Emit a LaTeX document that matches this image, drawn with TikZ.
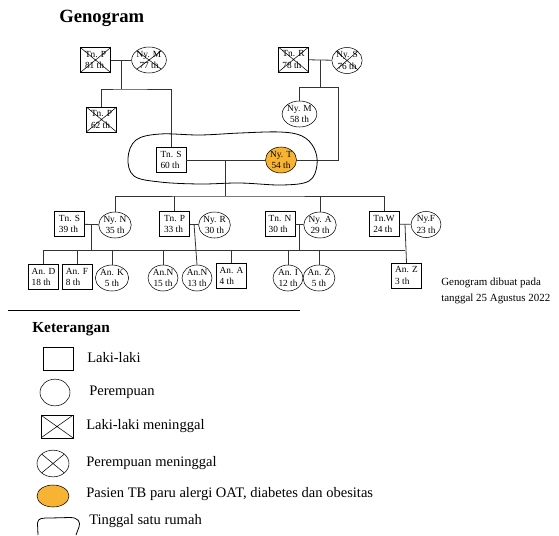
\documentclass[tikz,border=0pt]{standalone}
\usepackage{fontspec}
\setmainfont{Liberation Serif}
\usetikzlibrary{shapes.geometric,calc}
\definecolor{patientorange}{RGB}{247,180,52}

\tikzset{
  male/.style={draw, rectangle, minimum width=22.5pt, minimum height=18.5pt, inner sep=1pt, align=left, font=\fontsize{7}{8.8}\selectfont},
  female/.style={draw, ellipse, minimum width=22.5pt, minimum height=19.5pt, inner sep=0pt, align=center, font=\fontsize{7}{8.8}\selectfont},
  dead/.style={path picture={\draw[line width=0.4pt] (path picture bounding box.north west) -- (path picture bounding box.south east) (path picture bounding box.north east) -- (path picture bounding box.south west);}},
  patient/.style={fill=patientorange},
  link/.style={draw=black!80, line width=0.6pt},
  legendtext/.style={anchor=west, inner sep=0pt, font=\fontsize{10.9}{12}\selectfont}
}

\begin{document}
\begin{tikzpicture}[x=0.75pt,y=0.75pt,yscale=-1,xscale=1]
\useasboundingbox (0,0) rectangle (559,535);

% Title
\node (title) [anchor=west, inner sep=0pt, font=\bfseries\fontsize{14}{16}\selectfont] at (59,18) {Genogram};

%Shape: first generation
\node (tnP1) [male, dead] at (95.5,60) {Tn. P\\81 th};
\node (nyM1) [female, dead] at (149,60) {Ny. M\\77 th};
\node (tnR) [male, dead] at (293.5,59.5) {Tn. R\\78 th};
\node (nyS) [female, dead] at (347,60.5) {Ny. S\\76 th};

%Shape: second generation
\node (tnP2) [male, dead] at (101.5,119.5) {Tn. P\\62 th};
\node (tnS60) [male] at (171,160) {Tn. S\\60 th};
\node (nyT) [female, patient] at (281,160) {Ny. T\\54 th};
\node (nyM58) [female] at (299.5,114) {Ny. M\\58 th};

%Shape: third generation
\node (tnS39) [male] at (69.5,224) {Tn. S\\39 th};
\node (nyN) [female] at (115,225) {Ny. N\\35 th};
\node (tnP33) [male] at (174.5,224) {Tn. P\\33 th};
\node (nyR) [female] at (214.5,225) {Ny. R\\30 th};
\node (tnN) [male] at (280,224) {Tn. N\\30 th};
\node (nyA) [female] at (320,225) {Ny. A\\29 th};
\node (tnW) [male] at (384,224) {Tn.W\\24 th};
\node (nyF) [female] at (426,224.5) {Ny.F\\23 th};

%Shape: fourth generation
\node (anD) [male] at (43.5,277) {An. D\\18 th};
\node (anF) [male] at (77,277) {An. F\\8 th};
\node (anK) [female] at (112,278) {An. K\\5 th};
\node (anN15) [female] at (163,278) {An.N\\15 th};
\node (anN13) [female] at (197,278) {An.N\\13 th};
\node (anA) [male] at (231.5,276) {An. A\\4 th};
\node (anI) [female] at (288,278) {An. I\\12 th};
\node (anZ5) [female] at (319,278) {An. Z\\5 th};
\node (anZ3) [male] at (406.5,275.5) {An. Z\\3 th};

% Text Node
\node (note) [anchor=west, align=left, inner sep=0pt, font=\fontsize{8.2}{11.5}\selectfont] at (441,291) {Genogram dibuat pada\\tanggal 25 Agustus 2022};

%Straight Lines: couples
\draw [link] (tnP1) -- (nyM1);
\draw [link] (tnR) -- (nyS);
\draw [link] (tnS60) -- (nyT);
\draw [link] (tnS39) -- (nyN);
\draw [link] (tnP33) -- (nyR);
\draw [link] (tnN) -- (nyA);
\draw [link] (tnW) -- (nyF);

\coordinate (m1) at ($(tnP1.east)!.5!(nyM1.west)$);
\coordinate (m2) at ($(tnR.east)!.5!(nyS.west)$);
\coordinate (m3) at ($(tnS60.east)!.5!(nyT.west)$);
\coordinate (m4) at ($(tnS39.east)!.5!(nyN.west)$);
\coordinate (m5) at ($(tnP33.east)!.5!(nyR.west)$);
\coordinate (m6) at ($(tnN.east)!.5!(nyA.west)$);
\coordinate (m7) at ($(tnW.east)!.5!(nyF.west)$);

\coordinate (k1) at (124,89);
\coordinate (k2) at (320,87);
\coordinate (r2) at (338,87);
\coordinate (k3) at (227,196);
\coordinate (k4) at (0,250);

%Straight Lines: children of Tn. P and Ny. M
\draw [link] (m1) -- (m1 |- k1);
\draw [link] (tnP2.north) |- (k1) -| (tnS60.north);

%Straight Lines: children of Tn. R and Ny. S
\draw [link] (m2) -- (m2 |- k2);
\draw [link] (nyM58.north) |- (r2) |- (nyT.east);

%Straight Lines: children of Tn. S and Ny. T
\draw [link] (m3) -- (m3 |- k3);
\draw [link] (nyN.north) |- (k3) -| (tnW.north);
\draw [link] (tnP33.north) -- (tnP33.north |- k3);
\draw [link] (nyA.north) -- (nyA.north |- k3);

%Straight Lines: grandchildren
\draw [link] (anD.north) |- (m7 |- k4);
\draw [link] (m4) -- (m4 |- k4);
\draw [link] (m5) -- (anN13.north);
\draw [link] (m6) -- (m6 |- k4);
\draw [link] (m7) -- (anZ3.north);
\foreach \kid in {anF,anK,anN15,anA,anI,anZ5}
  \draw [link] (\kid.north) -- (\kid.north |- k4);

%Shape: household boundary
\draw [line width=0.6pt] plot [smooth cycle, tension=0.6] coordinates {(128,158) (136,140) (160,134) (200,135) (240,133) (280,132) (302,136) (314,148) (317,165) (309,181) (282,185) (240,183) (200,184) (160,182) (134,176)};

% Legend
\draw [line width=0.6pt] (8,310) -- (300,310);
\node (legend) [anchor=west, inner sep=0pt, font=\bfseries\fontsize{11.5}{13}\selectfont] at (32,329) {Keterangan};

\node (lgMale) [male, minimum width=22.5pt, minimum height=17pt] at (58,358.5) {};
\node (lgMaleText) [legendtext] at (87,358) {Laki-laki};
\node (lgFemale) [female, minimum width=22.5pt, minimum height=20pt] at (55,392.5) {};
\node (lgFemaleText) [legendtext] at (89,392) {Perempuan};
\node (lgMaleDead) [male, dead, minimum width=24pt, minimum height=17pt] at (57,426.5) {};
\node (lgMaleDeadText) [legendtext] at (86,426) {Laki-laki meninggal};
\node (lgFemaleDead) [female, dead, minimum width=24pt, minimum height=20pt] at (53,463.5) {};
\node (lgFemaleDeadText) [legendtext] at (86,463) {Perempuan meninggal};
\node (lgPatient) [female, patient, minimum width=24pt, minimum height=16.5pt] at (53,496) {};
\node (lgPatientText) [legendtext] at (86,494) {Pasien TB paru alergi OAT, diabetes dan obesitas};
\draw [line width=0.6pt] (38,535) -- (37.5,523) .. controls (38,518) and (42,518) .. (50,518) -- (70,517.5) .. controls (78,517.5) and (81,522) .. (79,527) -- (76,535);
\node (lgHouseText) [legendtext] at (89,521) {Tinggal satu rumah};

\end{tikzpicture}
\end{document}
